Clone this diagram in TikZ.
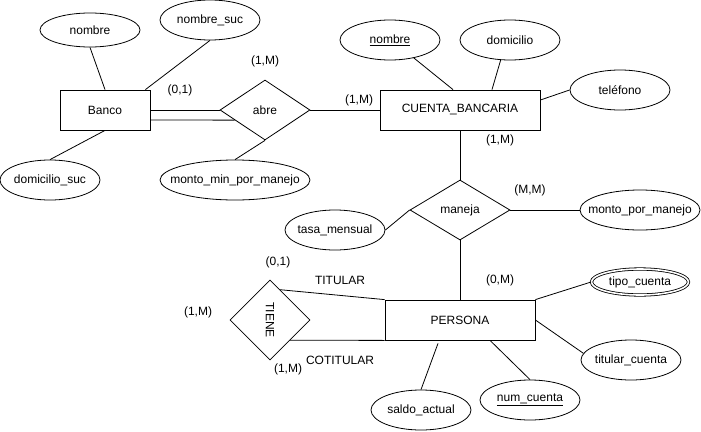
\documentclass[tikz,border=0pt]{standalone}
\usepackage{fontspec}
\setmainfont{Liberation Sans}
\usetikzlibrary{shapes.geometric,calc}
\tikzset{
  base/.style={font=\fontsize{12}{14}\selectfont, inner sep=0pt, line width=0.8pt},
  entity/.style={base, draw, rectangle, minimum height=40pt},
  attr/.style={base, draw, ellipse, minimum width=100pt, minimum height=40pt},
  mattr/.style={base, draw, ellipse, double, double distance=1.6pt, minimum width=97pt, minimum height=26pt},
  rel/.style={base, draw, diamond, minimum width=90pt, minimum height=60pt},
  lbl/.style={font=\fontsize{12}{14}\selectfont, inner sep=0pt},
  conn/.style={line width=0.8pt},
}
\newcommand{\zb}[1]{\makebox[0pt]{#1}}
\begin{document}
\begin{tikzpicture}[x=1pt,y=-1pt]
\useasboundingbox[fill=white] (0,0) rectangle (701,431);
% entities
\node[entity, minimum width=90pt] (banco) at (105,110) {Banco};
\node[entity, minimum width=160pt] (cuenta) at (460,110) {CUENTA\_BANCARIA};
\node[entity, minimum width=150pt] (persona) at (460,320) {PERSONA};
% relationships
\node[rel] (abre) at (265,110) {\zb{abre}};
\node[rel, minimum width=100pt] (maneja) at (460,210) {\zb{maneja}};
\node[rel, minimum width=80pt, minimum height=80pt] (tiene) at (270,320) {\zb{\rotatebox{-90}{TIENE}}};
% attributes
\node[attr, minimum height=34pt] (nombre) at (90,30) {\zb{nombre}};
\node[attr] (nombresuc) at (210,20) {\zb{nombre\_suc}};
\node[attr] (domsuc) at (50,180) {\zb{domicilio\_suc}};
\node[attr, minimum width=150pt] (montomin) at (235,180) {\zb{monto\_min\_por\_manejo}};
\node[attr] (nombrecb) at (390,40) {\zb{\underline{nombre}}};
\node[attr] (domicilio) at (510,40) {\zb{domicilio}};
\node[attr] (telefono) at (620,90) {\zb{teléfono}};
\node[attr, minimum width=120pt] (montopor) at (640,210) {\zb{monto\_por\_manejo}};
\node[attr] (tasa) at (335,230) {\zb{tasa\_mensual}};
\node[mattr] (tipo) at (640,282) {\zb{tipo\_cuenta}};
\node[attr] (titular) at (631,360) {\zb{titular\_cuenta}};
\node[attr] (saldo) at (421,410) {\zb{saldo\_actual}};
\node[attr] (numcuenta) at (530,400) {\zb{\underline{num\_cuenta}}};
% connectors
\draw[conn] (nombre.south) -- (banco.north);
\draw[conn] (nombresuc.south) -- ([xshift=-5pt]banco.north east);
\draw[conn] (banco.south) -- (domsuc.north);
\draw[conn] (abre.south) -- (montomin.north);
\draw[conn] (banco.east) -- (abre.west);
\draw[conn] ([yshift=-10pt]banco.east) -- ($(abre.west)!1/3!(abre.south)$);
\draw[conn] (abre.east) -- (cuenta.west);
\draw[conn] (nombrecb.-37) -- ([xshift=-7pt]cuenta.north);
\draw[conn] (domicilio.-115) -- ([xshift=32pt]cuenta.north);
\draw[conn] ([yshift=10pt]cuenta.east) -- (telefono.west);
\draw[conn] (cuenta.south) -- (maneja.north);
\draw[conn] (maneja.east) -- (montopor.west);
\draw[conn] (maneja.west) -- (tasa.east);
\draw[conn] (maneja.south) -- (persona.north);
\draw[conn] ($(tiene.north)!0.25!(tiene.east)$) -- (persona.north west);
\draw[conn] ($(tiene.east)!0.5!(tiene.south)$) -- (persona.south west);
\draw[conn] ([xshift=-22pt,yshift=-3pt]persona.south) -- (saldo.north);
\draw[conn] ([xshift=30pt]persona.south) -- (numcuenta.north);
\draw[conn] (persona.north east) -- (tipo.west);
\draw[conn] (persona.east) -- (titular.172);
% cardinality labels
\node[lbl] (c1) at (265,61) {(1,M)};
\node[lbl] (c2) at (180,90) {(0,1)};
\node[lbl] (c3) at (359,100) {(1,M)};
\node[lbl] (c4) at (500,140) {(1,M)};
\node[lbl] (c5) at (530,190) {(M,M)};
\node[lbl] (c6) at (278,262) {(0,1)};
\node[lbl] (c7) at (340,280) {TITULAR};
\node[lbl] (c8) at (198,312) {(1,M)};
\node[lbl] (c9) at (340,360) {COTITULAR};
\node[lbl] (c10) at (288,369) {(1,M)};
\node[lbl] (c11) at (500,280) {(0,M)};
\end{tikzpicture}
\end{document}
